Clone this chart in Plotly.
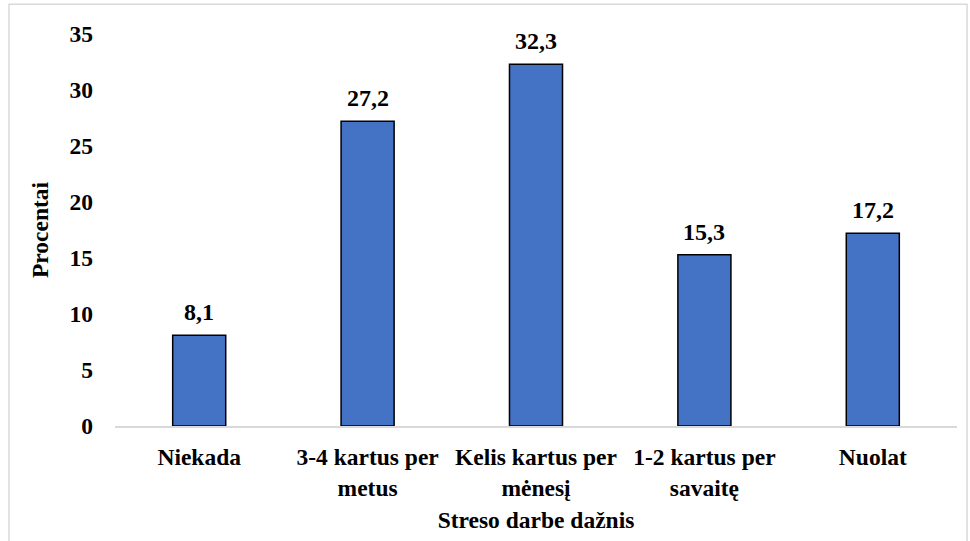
import plotly.graph_objects as go

categories = ["Niekada", "3-4 kartus per<br>metus", "Kelis kartus per<br>mėnesį",
              "1-2 kartus per<br>savaitę", "Nuolat"]
values = [8.1, 27.2, 32.3, 15.3, 17.2]
y_ticks = [0, 5, 10, 15, 20, 25, 30, 35]
labels = [f"{v:.1f}".replace(".", ",") for v in values]

FONT = "Liberation Serif"
FS = 23.5

fig = go.Figure(go.Bar(
    x=categories, y=values,
    marker=dict(color="#4472C4", line=dict(color="black", width=1.5)),
    width=0.315,
))

for c, v, t in zip(categories, values, labels):
    fig.add_annotation(x=c, y=v, text=f"<b>{t}</b>", showarrow=False,
                       yanchor="bottom", yshift=8,
                       font=dict(family=FONT, size=24, color="black"))

fig.update_layout(
    width=970, height=541,
    margin=dict(l=115, r=13, t=34, b=111.5),
    paper_bgcolor="white", plot_bgcolor="white",
    font=dict(family=FONT, size=FS, color="black"),
    showlegend=False,
)
fig.update_xaxes(
    tickfont=dict(family=FONT, size=FS, color="black", weight="bold"),
    showline=True, linecolor="#D9D9D9", linewidth=1.5,
    showgrid=False, ticks="",
    ticklabelstandoff=9,
    title=dict(text="<b>Streso darbe dažnis</b>", font=dict(family=FONT, size=FS), standoff=12),
)
fig.update_yaxes(
    range=[0, 35], tickvals=y_ticks,
    tickfont=dict(family=FONT, size=FS, color="black", weight="bold"),
    showgrid=False, showline=False, zeroline=False, ticks="",
    ticklabelstandoff=21,
    title=dict(text="<b>Procentai</b>", font=dict(family=FONT, size=FS), standoff=14),
)
fig.add_shape(type="rect", xref="paper", yref="paper",
              x0=-0.1259, x1=1.0119, y0=-0.5, y1=1.0759,
              line=dict(color="#D9D9D9", width=1.5), fillcolor="rgba(0,0,0,0)", layer="below")

fig.write_html("out.html")
